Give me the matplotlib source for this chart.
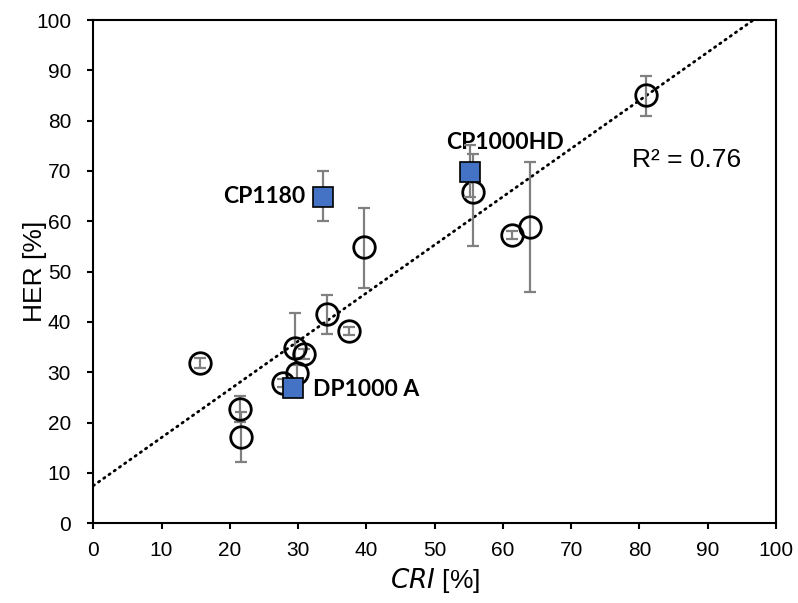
import numpy as np
import matplotlib.pyplot as plt

plt.rcParams['font.family'] = ['Liberation Sans', 'DejaVu Sans']

# open circles: CRI, HER, lower / upper error
cri = [15.7, 21.5, 21.7, 27.8, 29.8, 29.6, 30.9, 34.2, 37.4, 39.6, 55.6, 61.4, 63.9, 81.0]
her = [31.8, 22.7, 17.2, 27.8, 29.9, 34.8, 33.6, 41.5, 38.3, 54.9, 65.9, 57.3, 58.9, 85.1]
her_err_lo = [1.0, 2.5, 5.0, 0.8, 1.5, 2.0, 1.0, 3.9, 0.8, 8.2, 10.9, 0.8, 12.9, 4.1]
her_err_hi = [1.0, 2.5, 5.0, 0.8, 1.5, 7.0, 1.0, 3.9, 0.8, 7.7, 7.5, 0.8, 12.9, 3.8]

# highlighted steels
steel_names = ['CP1180', 'CP1000HD', 'DP1000 A']
steel_cri = [33.7, 55.2, 29.3]
steel_her = [64.9, 69.9, 26.8]
steel_err_lo = [4.8, 5.0, 0.0]
steel_err_hi = [5.1, 5.3, 0.0]

# linear trend
trend_intercept = 7.47
trend_slope = 0.957
r_squared = 0.76

fig = plt.figure(figsize=(7.98, 6.03), dpi=100)
ax = fig.add_axes([0.1169, 0.1322, 0.8555, 0.8346])

xs = np.linspace(0, 100, 200)
ax.plot(xs, trend_intercept + trend_slope * xs, linestyle=(0, (0.5, 1.8)),
        color='black', linewidth=2.0, dash_capstyle='round', zorder=1)

ax.errorbar(cri, her, yerr=[her_err_lo, her_err_hi], fmt='none',
            ecolor='#808080', elinewidth=1.6, capsize=4, capthick=1.6, zorder=2)
ax.plot(cri, her, 'o', markersize=15.5, markerfacecolor='none',
        markeredgecolor='black', markeredgewidth=2.0, zorder=3)

ax.errorbar(steel_cri, steel_her, yerr=[steel_err_lo, steel_err_hi], fmt='none',
            ecolor='#808080', elinewidth=1.6, capsize=4, capthick=1.6, zorder=4)
ax.plot(steel_cri, steel_her, 's', markersize=14, markerfacecolor='#4472C4',
        markeredgecolor='black', markeredgewidth=1.2, zorder=5)

label_font = dict(fontsize=16.5, fontweight='bold', family=['Lato', 'DejaVu Sans'])
ax.text(31.0, 65.0, steel_names[0], ha='right', va='center', **label_font)
ax.text(60.3, 75.6, steel_names[1], ha='center', va='center', **label_font)
ax.text(32.2, 26.5, steel_names[2], ha='left', va='center', **label_font)

ax.text(86.9, 72.2, f'R² = {r_squared:.2f}', ha='center', va='center', fontsize=19)

ax.set_xlim(0, 100)
ax.set_ylim(0, 100)
ax.set_xticks(np.arange(0, 101, 10))
ax.set_yticks(np.arange(0, 101, 10))
ax.tick_params(labelsize=15, length=4, width=1.5, direction='out')
ax.tick_params(axis='y', pad=12)
ax.tick_params(axis='x', pad=9)
for s in ax.spines.values():
    s.set_linewidth(1.5)

ax.set_ylabel('HER [%]', fontsize=19, labelpad=-8)
ax.set_xlabel(r'$\mathit{CRI}$ [%]', fontsize=19, labelpad=4)

fig.savefig('out.png', dpi=100)
